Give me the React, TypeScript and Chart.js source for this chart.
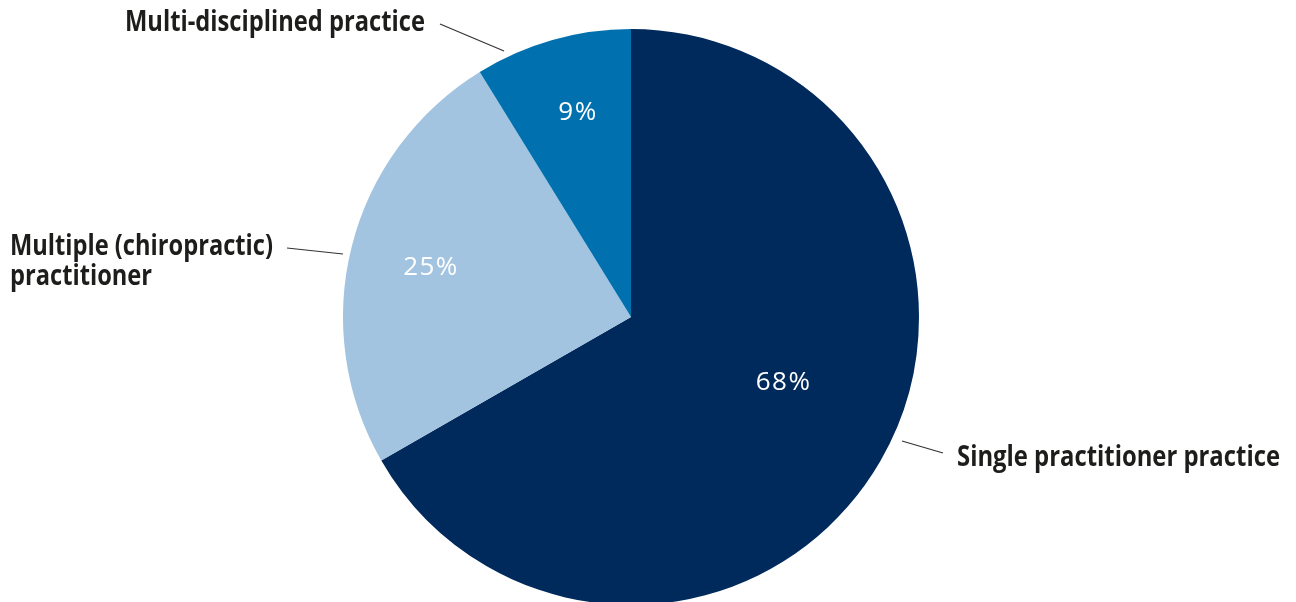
import React, { useEffect, useRef } from "react";
import { Chart, registerables } from "chart.js";

Chart.register(...registerables);

const categories = ["Single practitioner practice", "Multiple (chiropractic) practitioner", "Multi-disciplined practice"];
const shares = [66.7, 24.5, 8.8];
const pctLabels = ["68%", "25%", "9%"];
const colors = ["#002A5C", "#A3C4E1", "#0071AE"];

// callout text lines, with target left/right/baseline (layout)
const callouts = [
  { lines: ["Single practitioner practice"], x: 957, w: 323, y: [466], line: [902, 441, 943, 453] },
  { lines: ["Multiple (chiropractic)", "practitioner"], x: 10, w: 263, y: [255, 285], line: [287, 248, 343, 254] },
  { lines: ["Multi-disciplined practice"], x: 125, w: 300, y: [31], line: [440, 24, 504, 51] },
];
// label placement inside slices: radius fraction and angle shift (radians)
const pctPlace = [
  { r: 0.57, a: -0.13 },
  { r: 0.72, a: 0 },
  { r: 0.74, a: 0.02 },
];

const BOLD = '"Liberation Sans Narrow", "Open Sans", sans-serif';

const labelPlugin = {
  id: "labelPlugin",
  afterDraw(chart: any) {
    const ctx = chart.ctx;
    const meta = chart.getDatasetMeta(0);
    ctx.save();
    // percentages
    ctx.fillStyle = "#ffffff";
    ctx.font = '26px "Open Sans", sans-serif';
    (ctx as any).letterSpacing = "1.5px";
    ctx.textAlign = "center";
    ctx.textBaseline = "middle";
    meta.data.forEach((arc: any, i: number) => {
      const p = arc.getProps(["x", "y", "startAngle", "endAngle", "outerRadius"], true);
      const mid = (p.startAngle + p.endAngle) / 2 + pctPlace[i].a;
      const r = p.outerRadius * pctPlace[i].r;
      ctx.fillText(pctLabels[i], p.x + Math.cos(mid) * r + 1, p.y + Math.sin(mid) * r + 2);
    });
    (ctx as any).letterSpacing = "0px";
    // callouts
    ctx.textAlign = "left";
    ctx.textBaseline = "alphabetic";
    ctx.fillStyle = "#1d1d1b";
    ctx.strokeStyle = "#333333";
    ctx.lineWidth = 1.2;
    callouts.forEach((c) => {
      ctx.beginPath();
      ctx.moveTo(c.line[0], c.line[1]);
      ctx.lineTo(c.line[2], c.line[3]);
      ctx.stroke();
      ctx.font = "bold 28px " + BOLD;
      const w0 = ctx.measureText(c.lines[0]).width;
      const sx = c.w / w0;
      c.lines.forEach((t, j) => {
        ctx.save();
        ctx.translate(c.x, c.y[j]);
        ctx.scale(sx, 1);
        ctx.fillText(t, 0, 0);
        ctx.restore();
      });
    });
    ctx.restore();
  },
};

export default function App() {
  const ref = useRef<HTMLCanvasElement>(null);
  useEffect(() => {
    document.body.style.margin = "0";
    const chart = new Chart(ref.current!, {
      type: "pie",
      data: {
        labels: categories,
        datasets: [
          {
            data: shares,
            backgroundColor: colors,
            borderWidth: 0,
            hoverOffset: 0,
          },
        ],
      },
      options: {
        responsive: false,
        animation: false,
        devicePixelRatio: 1,
        layout: { padding: { top: 29, bottom: 45, left: 0, right: 34 } },
        plugins: { legend: { display: false }, tooltip: { enabled: false } },
        events: [],
      },
      plugins: [labelPlugin],
    });
    return () => chart.destroy();
  }, []);
  return (
    <div style={{ width: 1296, height: 602, overflow: "hidden", background: "#fff" }}>
      <canvas ref={ref} width={1296} height={650} />
    </div>
  );
}
